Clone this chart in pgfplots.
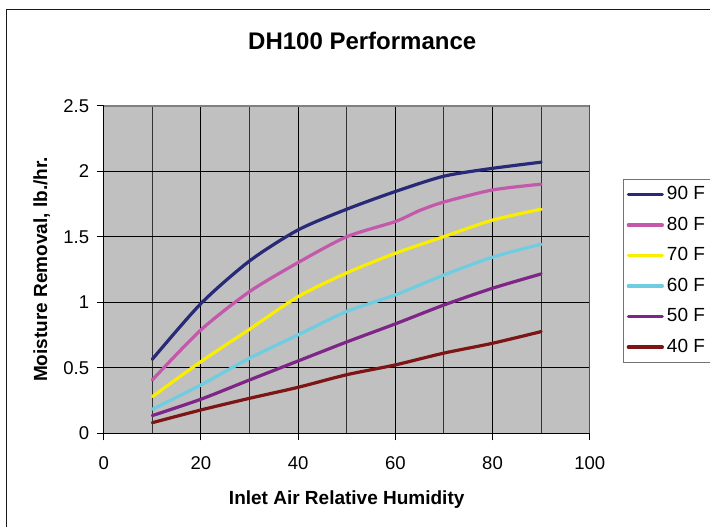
\documentclass[border=0pt]{standalone}
\usepackage{pgfplots}
\pgfplotsset{compat=1.18}
\usepackage{fontspec}
\setmainfont{Liberation Sans}
\definecolor{plotbg}{RGB}{192,192,192}
\definecolor{cNavy}{RGB}{40,42,120}
\definecolor{cPink}{RGB}{196,88,170}
\definecolor{cYellow}{RGB}{250,238,0}
\definecolor{cCyan}{RGB}{110,205,225}
\definecolor{cPurple}{RGB}{125,38,135}
\definecolor{cRed}{RGB}{125,20,22}
\begin{document}
\begin{tikzpicture}
\useasboundingbox (0pt,0pt) rectangle (710pt,527pt);
\draw[line width=1.2pt, black!90] (6.5pt,-20pt) -- (6.5pt,517.5pt) -- (730pt,517.5pt);
\begin{axis}[
  at={(103.7pt,93.7pt)}, anchor=south west,
  scale only axis, width=486pt, height=327.6pt,
  xmin=0, xmax=100, ymin=0, ymax=2.5,
  xtick={0,20,...,100}, minor xtick={10,30,...,90},
  ytick={0,0.5,...,2.5},
  grid=both,
  major grid style={black, line width=0.9pt},
  minor grid style={black!80, line width=0.9pt},
  axis background/.style={fill=plotbg},
  axis x line*=bottom, axis y line*=left,
  axis line style={black, line width=1pt},
  tick style={black, line width=1pt},
  tick align=outside, major tick length=7pt, minor tick length=0pt,
  /pgf/number format/assume math mode=true,
  tick label style={font=\fontsize{18.5}{20}\selectfont},
  xticklabel style={yshift=-13pt},
  yticklabel style={xshift=-4pt},
  title={DH100 Performance},
  title style={at={(0.532,1.18)}, anchor=center, font=\fontsize{24}{28}\selectfont\bfseries},
  xlabel={Inlet Air Relative Humidity},
  xlabel style={at={(0.5,-0.203)}, anchor=center, font=\fontsize{19}{22}\selectfont\bfseries},
  ylabel={Moisture Removal, lb./hr.},
  ylabel style={at={(-0.1276,0.5)}, anchor=center, font=\fontsize{19}{22}\selectfont\bfseries},
  legend style={at={(1.069,0.776)}, anchor=north west, draw=black!55, line width=1pt, fill=white,
    font=\fontsize{19}{22}\selectfont, row sep=8.5pt, inner xsep=3pt, inner ysep=4pt,
    nodes={inner xsep=3pt, inner ysep=2pt, text height=14pt, text depth=4pt}},
  legend cell align=left,
  legend image code/.code={\draw[#1] (0pt,0pt) -- (34pt,0pt);},
  every axis plot/.append style={line width=3.2pt, smooth, tension=0.45, line cap=round},
]
\addplot[cNavy] coordinates {(10,0.565) (20,0.99) (30,1.315) (40,1.552) (50,1.71) (60,1.845) (70,1.962) (80,2.022) (90,2.069)};
\addlegendentry{\makebox[60pt][l]{90 F}}
\addplot[cPink] coordinates {(10,0.407) (20,0.789) (30,1.081) (40,1.303) (50,1.50) (60,1.616) (65,1.70) (70,1.765) (80,1.857) (90,1.901)};
\addlegendentry{\makebox[60pt][l]{80 F}}
\addplot[cYellow] coordinates {(10,0.28) (20,0.547) (30,0.794) (40,1.043) (50,1.224) (60,1.374) (70,1.501) (80,1.627) (90,1.71)};
\addlegendentry{\makebox[60pt][l]{70 F}}
\addplot[cCyan] coordinates {(10,0.183) (20,0.369) (30,0.573) (40,0.751) (50,0.93) (60,1.056) (70,1.208) (80,1.344) (90,1.443)};
\addlegendentry{\makebox[60pt][l]{60 F}}
\addplot[cPurple] coordinates {(10,0.135) (20,0.26) (30,0.407) (40,0.552) (50,0.697) (60,0.835) (70,0.979) (80,1.107) (90,1.216)};
\addlegendentry{\makebox[60pt][l]{50 F}}
\addplot[cRed] coordinates {(10,0.081) (20,0.178) (30,0.267) (40,0.351) (50,0.447) (60,0.522) (70,0.612) (80,0.687) (90,0.776)};
\addlegendentry{\makebox[60pt][l]{40 F}}
\draw[black!50, line width=2pt] (rel axis cs:0,1) -- (rel axis cs:1,1) -- (rel axis cs:1,0);
\end{axis}
\end{tikzpicture}
\end{document}
